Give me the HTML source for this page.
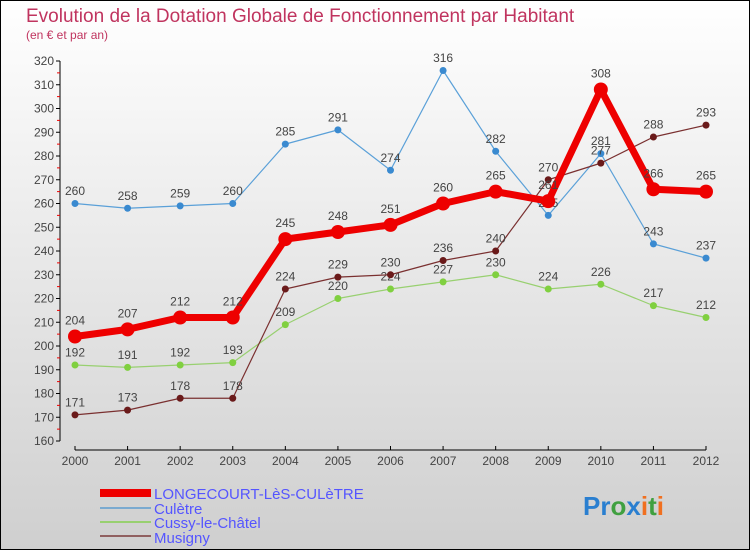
<!DOCTYPE html>
<html><head><meta charset="utf-8"><style>
body{margin:0;width:750px;height:550px;overflow:hidden}
svg{display:block;font-family:"Liberation Sans",sans-serif}
</style></head><body>
<svg id="c" width="750" height="550">
<defs><linearGradient id="bg" x1="0" y1="0" x2="0" y2="1"><stop offset="0" stop-color="#ffffff"/><stop offset="1" stop-color="#cfcfcf"/></linearGradient></defs>
<rect x="0.5" y="0.5" width="749" height="549" fill="url(#bg)" stroke="#000"/>
<text x="26" y="22" font-size="19" fill="#c0345f">Evolution de la Dotation Globale de Fonctionnement par Habitant</text>
<text x="26" y="39" font-size="12" fill="#c0345f">(en € et par an)</text>
<g id="axes"></g><g id="series"></g>
<g>
<rect x="100" y="489" width="51" height="8" fill="#e00"/>
<text x="154" y="499" font-size="15" fill="#5555ff">LONGECOURT-LèS-CULèTRE</text>
<rect x="100" y="507" width="51" height="2" fill="#7aaad0"/>
<text x="154" y="514" font-size="15" fill="#5555ff">Culètre</text>
<rect x="100" y="521" width="51" height="2" fill="#98d070"/>
<text x="154" y="528" font-size="15" fill="#5555ff">Cussy-le-Châtel</text>
<rect x="100" y="535" width="51" height="2" fill="#906060"/>
<text x="154" y="543" font-size="15" fill="#5555ff">Musigny</text>
</g>
<text x="583" y="515" font-size="26" font-weight="bold"><tspan fill="#2a7fd0">Pr</tspan><tspan fill="#40a040">o</tspan><tspan fill="#2a7fd0">x</tspan><tspan fill="#f07020">i</tspan><tspan fill="#40a040">t</tspan><tspan fill="#f07020">i</tspan></text>
</svg>
<script>
const years=[2000,2001,2002,2003,2004,2005,2006,2007,2008,2009,2010,2011,2012];
const yTicks=[160,170,180,190,200,210,220,230,240,250,260,270,280,290,300,310,320];
const longecourt=[204,207,212,212,245,248,251,260,265,261,308,266,265];
const culetre=[260,258,259,260,285,291,274,316,282,255,281,243,237];
const cussy=[192,191,192,193,209,220,224,227,230,224,226,217,212];
const musigny=[171,173,178,178,224,229,230,236,240,270,277,288,293];
const NS="http://www.w3.org/2000/svg";
const X=i=>75+i*(631/12);
const Y=v=>61+(320-v)*2.375;
function mk(tag,attrs,parent){const e=document.createElementNS(NS,tag);for(const k in attrs)e.setAttribute(k,attrs[k]);parent.appendChild(e);return e;}
const ax=document.getElementById('axes');
let l=mk('line',{x1:60,y1:61,x2:60,y2:441,stroke:'#000'},ax);


yTicks.forEach(v=>{
 mk('line',{x1:56,y1:Y(v),x2:60,y2:Y(v),stroke:'#000'},ax);
 if(v<320) mk('line',{x1:57,y1:Y(v+5),x2:60,y2:Y(v+5),stroke:'#e00'},ax);
 const t=mk('text',{x:54,y:Y(v)+4,'font-size':12,fill:'#444','text-anchor':'end'},ax);
 t.textContent=v;
 
 
});
l=mk('line',{x1:75,y1:450,x2:706,y2:450,stroke:'#000'},ax);


years.forEach((yr,i)=>{
 mk('line',{x1:X(i),y1:446,x2:X(i),y2:450,stroke:'#000'},ax);
 const t=mk('text',{x:X(i),y:465,'font-size':12,fill:'#444','text-anchor':'middle'},ax);
 t.textContent=yr;
 
 
});
const sg=document.getElementById('series');
function series(name,vals,color,w,r,dot){
 const g=mk('g',{},sg);
 
 
 const p=mk('polyline',{points:vals.map((v,i)=>X(i)+','+Y(v)).join(' '),fill:'none',stroke:color,'stroke-width':w,'stroke-linejoin':'round'},g);
 
 
 vals.forEach((v,i)=>{
  const c=mk('circle',{cx:X(i),cy:Y(v),r:r,fill:dot},g);
  
  
  const t=mk('text',{x:X(i),y:Y(v)-(r+5),'font-size':12,fill:'#444','text-anchor':'middle'},g);
  t.textContent=v;
  
  
 });
}
series('culetre',culetre,'#5aa0d8',1.2,3.5,'#3a8ad0');
series('cussy',cussy,'#98d070',1.2,3.5,'#80d040');
series('musigny',musigny,'#7a3030',1.2,3.5,'#6a1a1a');
series('longecourt',longecourt,'#ee0000',7,7,'#ee0000');
</script>
</body></html>
